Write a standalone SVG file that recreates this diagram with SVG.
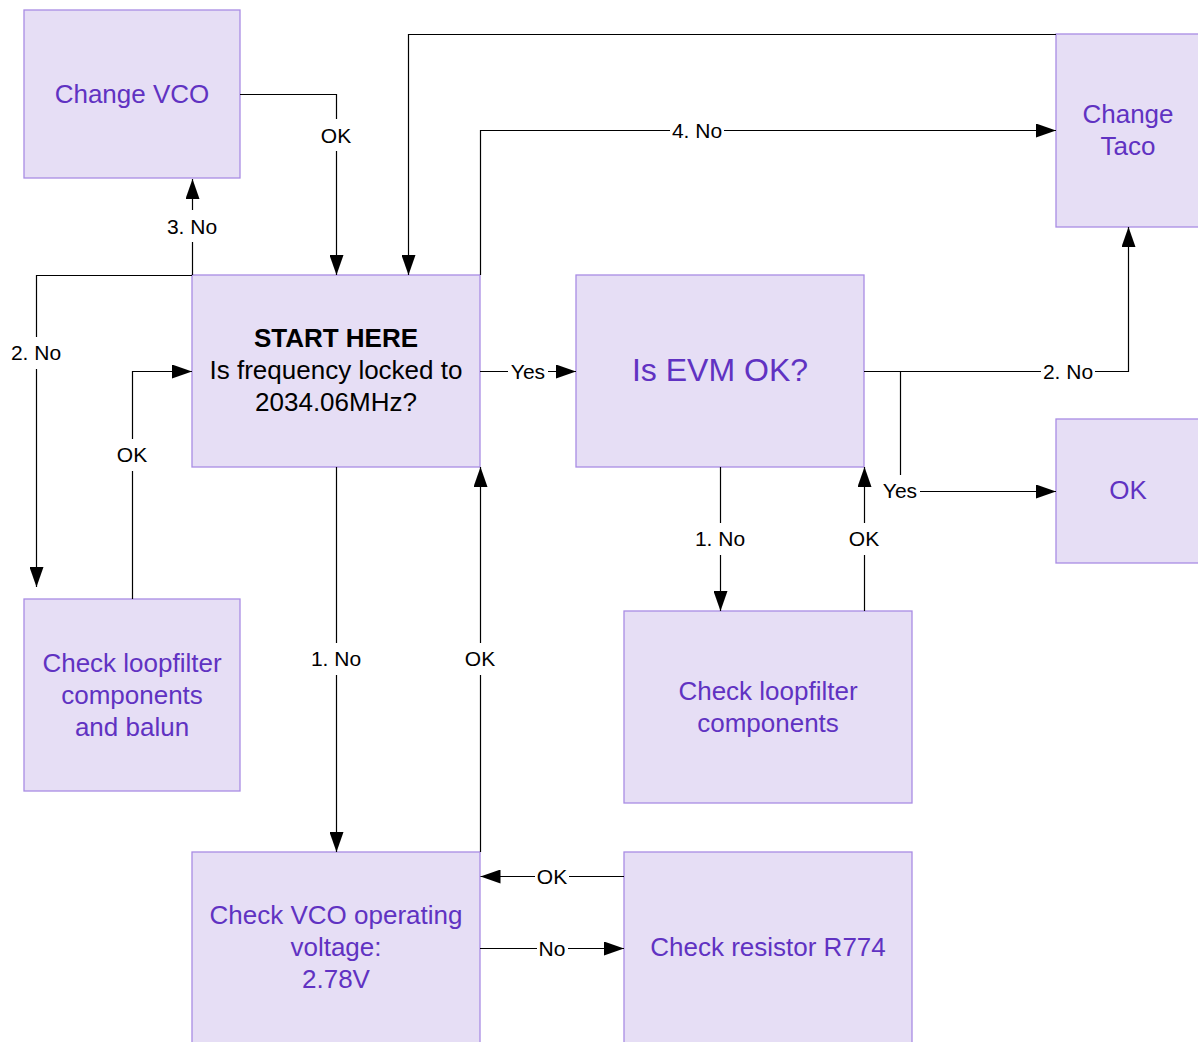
<svg xmlns="http://www.w3.org/2000/svg" width="1198" height="1042" viewBox="0 0 1198 1042">
<style>
.node rect{fill:#E6DEF5;stroke:#A98CE4;stroke-width:1.3}
.node text{font-family:"Liberation Sans",Arial,sans-serif;font-size:26px;fill:#6032C2;text-anchor:middle}
.node text.dark{fill:#000}
.conn path{fill:none;stroke:#000;stroke-width:1.2}
.lbl rect{fill:#fff}
.lbl text{font-family:"Liberation Sans",Arial,sans-serif;font-size:21px;fill:#000;text-anchor:middle}
</style>
<defs>
<marker id="arr" markerUnits="userSpaceOnUse" markerWidth="21" markerHeight="14" refX="20" refY="7" orient="auto" viewBox="0 0 21 14">
<path d="M0,0 L20,7 L0,14 Z" fill="#000"/>
</marker>
</defs>
<rect x="0" y="0" width="1198" height="1042" fill="#fff"/>

<g id="nodes">
<g id="change-vco" class="node"><rect x="24" y="10" width="216" height="168"/><text x="132" y="103">Change VCO</text></g>
<g id="change-taco" class="node"><rect x="1056" y="34" width="144" height="193"/><text x="1128" y="123">Change</text><text x="1128" y="155">Taco</text></g>
<g id="start" class="node"><rect x="192" y="275" width="288" height="192"/><text class="dark" x="336" y="347" font-weight="bold">START HERE</text><text class="dark" x="336" y="379">Is frequency locked to</text><text class="dark" x="336" y="411">2034.06MHz?</text></g>
<g id="evm" class="node"><rect x="576" y="275" width="288" height="192"/><text x="720" y="381" style="font-size:32px">Is EVM OK?</text></g>
<g id="ok" class="node"><rect x="1056" y="419" width="144" height="144"/><text x="1128" y="499">OK</text></g>
<g id="loop-balun" class="node"><rect x="24" y="599" width="216" height="192"/><text x="132" y="672">Check loopfilter</text><text x="132" y="704">components</text><text x="132" y="736">and balun</text></g>
<g id="loop" class="node"><rect x="624" y="611" width="288" height="192"/><text x="768" y="700">Check loopfilter</text><text x="768" y="732">components</text></g>
<g id="vco-volt" class="node"><rect x="192" y="852" width="288" height="192"/><text x="336" y="923.5">Check VCO operating</text><text x="336" y="955.5">voltage:</text><text x="336" y="987.5">2.78V</text></g>
<g id="r774" class="node"><rect x="624" y="852" width="288" height="192"/><text x="768" y="956">Check resistor R774</text></g>
</g>

<g id="connectors" class="conn">
<path d="M240,94.5 H336.5 V275" marker-end="url(#arr)"/>
<path d="M1056,34.5 H408.5 V275" marker-end="url(#arr)"/>
<path d="M480.5,275 V130.5 H1056" marker-end="url(#arr)"/>
<path d="M192.5,275 V179" marker-end="url(#arr)"/>
<path d="M192,275.5 H36.5 V587" marker-end="url(#arr)"/>
<path d="M132.5,599 V371.5 H192" marker-end="url(#arr)"/>
<path d="M480,371.5 H576" marker-end="url(#arr)"/>
<path d="M336.5,467 V852" marker-end="url(#arr)"/>
<path d="M480.5,852 V467" marker-end="url(#arr)"/>
<path d="M624,876.5 H480.5" marker-end="url(#arr)"/>
<path d="M480,948.5 H624" marker-end="url(#arr)"/>
<path d="M720.5,467 V611" marker-end="url(#arr)"/>
<path d="M864.5,611 V467" marker-end="url(#arr)"/>
<path d="M864,371.5 H900.5 V491.5 H1056" marker-end="url(#arr)"/>
<path d="M864,371.5 H1128.5 V227" marker-end="url(#arr)"/>
</g>

<g id="labels" class="lbl">
<rect x="319" y="119" width="34" height="32"/><text x="336" y="143">OK</text>
<rect x="670" y="114" width="54" height="32"/><text x="697" y="138">4. No</text>
<rect x="165" y="210" width="54" height="32"/><text x="192" y="233.5">3. No</text>
<rect x="9" y="337" width="54" height="32"/><text x="36" y="360">2. No</text>
<rect x="115" y="439" width="34" height="32"/><text x="132" y="462">OK</text>
<rect x="508" y="355" width="40" height="32"/><text x="528" y="378.5">Yes</text>
<rect x="309" y="643" width="54" height="32"/><text x="336" y="666">1. No</text>
<rect x="463" y="643" width="34" height="32"/><text x="480" y="666">OK</text>
<rect x="535" y="860" width="34" height="32"/><text x="552" y="883.5">OK</text>
<rect x="537" y="932" width="31" height="32"/><text x="552" y="955.5">No</text>
<rect x="693" y="523" width="54" height="32"/><text x="720" y="546">1. No</text>
<rect x="847" y="523" width="34" height="32"/><text x="864" y="546">OK</text>
<rect x="880" y="475" width="40" height="32"/><text x="900" y="498">Yes</text>
<rect x="1041" y="355" width="54" height="32"/><text x="1068" y="378.5">2. No</text>
</g>
</svg>
